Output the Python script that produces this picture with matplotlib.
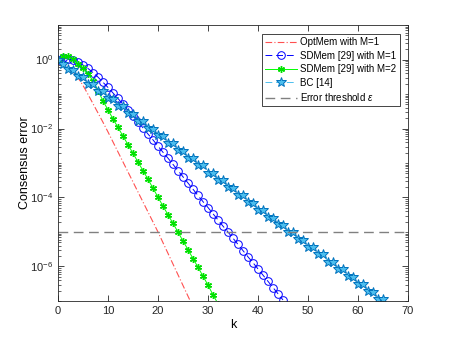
import numpy as np
import matplotlib
matplotlib.use('Agg')
import matplotlib.pyplot as plt
from matplotlib.ticker import LogLocator, FixedLocator, NullFormatter

# log10 of the consensus error
k_opt = list(range(0, 28))
log_opt = [0.0, -0.10, -0.22, -0.37, -0.53, -0.75, -1.01, -1.28, -1.55, -1.82,
           -2.10, -2.39, -2.68, -2.97, -3.26, -3.55, -3.84, -4.13, -4.42, -4.71,
           -5.00, -5.31, -5.62, -5.93, -6.24, -6.55, -6.86, -7.17]

k_sd1 = list(range(0, 46))
log_sd1 = [0.0, 0.03, 0.02, -0.02, -0.08, -0.16, -0.26, -0.38, -0.51, -0.66,
           -0.81, -0.97, -1.13, -1.30, -1.47, -1.64, -1.81, -1.98, -2.16, -2.33,
           -2.51, -2.69, -2.86, -3.04, -3.22, -3.40, -3.58, -3.76, -3.94, -4.12,
           -4.29, -4.47, -4.65, -4.83, -5.00, -5.18, -5.36, -5.54, -5.72, -5.89,
           -6.07, -6.25, -6.43, -6.61, -6.79, -6.97]

k_sd2 = list(range(0, 33))
log_sd2 = [0.0, 0.10, 0.10, 0.02, -0.12, -0.25, -0.41, -0.62, -0.90, -1.20,
           -1.46, -1.72, -1.97, -2.22, -2.47, -2.72, -2.97, -3.22, -3.47, -3.73,
           -3.99, -4.25, -4.50, -4.75, -5.00, -5.26, -5.51, -5.77, -6.02, -6.28,
           -6.54, -6.82, -7.08]

k_bc = list(range(0, 66))
log_bc = [0.0, -0.12, -0.28, -0.29, -0.49, -0.50, -0.70, -0.71, -0.91, -0.92,
          -1.13, -1.14, -1.34, -1.35, -1.56, -1.57, -1.77, -1.78, -1.99, -2.00,
          -2.20, -2.21, -2.42, -2.43, -2.63, -2.64, -2.85, -2.86, -3.06, -3.07,
          -3.28, -3.29, -3.49, -3.50, -3.71, -3.72, -3.92, -3.93, -4.14, -4.15,
          -4.35, -4.36, -4.57, -4.58, -4.78, -4.79, -5.00, -5.01, -5.21, -5.22,
          -5.43, -5.44, -5.64, -5.65, -5.86, -5.87, -6.07, -6.08, -6.29, -6.30,
          -6.50, -6.51, -6.72, -6.73, -6.93, -6.94]

threshold = 1e-5

plt.rcParams['font.family'] = ['Liberation Sans', 'DejaVu Sans']
plt.rcParams['mathtext.fontset'] = 'custom'
plt.rcParams['mathtext.rm'] = 'Liberation Sans'
plt.rcParams['mathtext.it'] = 'Liberation Sans:italic'

fig = plt.figure(figsize=(4.51, 3.38), dpi=100)
ax = fig.add_axes([0.1286, 0.1095, 0.776, 0.8165])

ax.semilogy(k_opt, 10.0 ** np.array(log_opt), color='#ff5050', ls=(0, (6, 2, 1, 2)), lw=0.8,
            label='OptMem with M=1')
ax.semilogy(k_sd1, 10.0 ** np.array(log_sd1), color='#0000ff', ls=(0, (7, 4)), lw=0.7,
            marker='o', ms=5.5, mfc='none', mec='#0000ff', mew=0.7,
            label='SDMem [29] with M=1')
ax.semilogy(k_sd2, 10.0 ** np.array(log_sd2), color='#00ff00', ls='-', lw=0.7,
            marker=(6, 2, 0), ms=5, mfc='#00ff00', mec='#00e000', mew=1.0,
            label='SDMem [29] with M=2')
ax.semilogy(k_bc, 10.0 ** np.array(log_bc), color='#4dbeee', ls=(0, (7, 4)), lw=0.7,
            marker='*', ms=7, mfc='#4dbeee', mec='#0072bd', mew=0.7,
            label='BC [14]')
ax.axhline(threshold, color='#808080', ls=(0, (7, 4)), lw=1.0,
           label='Error threshold $\\epsilon$')

ax.set_xlim(0, 70)
ax.set_ylim(1e-7, 1e1)
ax.set_xticks(range(0, 71, 10))
ax.yaxis.set_major_locator(FixedLocator([1e-6, 1e-4, 1e-2, 1e0]))
ax.yaxis.set_minor_locator(LogLocator(base=10, subs=np.arange(1, 10), numticks=20))
ax.yaxis.set_minor_formatter(NullFormatter())

ax.tick_params(which='both', direction='in', top=True, right=True,
               colors='#262626', labelsize=8)
ax.tick_params(which='major', length=4, width=0.6)
ax.tick_params(which='minor', length=2, width=0.5)
for s in ax.spines.values():
    s.set_color('#262626')
    s.set_linewidth(0.6)

ax.set_xlabel('k', fontsize=9, labelpad=2)
ax.set_ylabel('Consensus error', fontsize=9, labelpad=-1)

leg = ax.legend(loc='upper right', bbox_to_anchor=(400 / 451, 1 - 34 / 338),
                bbox_transform=fig.transFigure, fontsize=7, fancybox=False,
                framealpha=1, edgecolor='#262626', handlelength=3.2,
                borderpad=0.35, labelspacing=0.35, handletextpad=0.4,
                borderaxespad=0)
leg.get_frame().set_linewidth(0.6)

fig.savefig('out.png', dpi=100)
